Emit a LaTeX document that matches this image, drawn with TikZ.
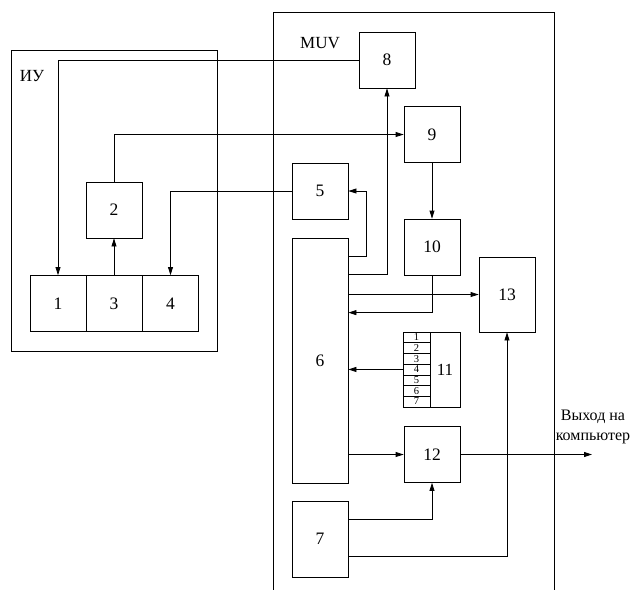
\documentclass[tikz,border=0pt]{standalone}
\usepackage{fontspec}
\setmainfont{Liberation Serif}
\usetikzlibrary{arrows.meta}
\tikzset{
  blk/.style={draw, line width=0.8pt, minimum width=56pt, minimum height=56pt,
              inner sep=0pt, font=\fontsize{17.5}{19}\selectfont},
  slot/.style={draw, line width=0.6pt, minimum width=27pt, minimum height=10.7pt,
               inner sep=0pt, font=\fontsize{10.5}{9}\selectfont},
  txt/.style={inner sep=0pt, font=\fontsize{17}{20}\selectfont},
  frame/.style={draw, line width=0.8pt},
  arr/.style={-{Triangle[length=8pt,width=5pt]}, line width=0.8pt},
}
\begin{document}
\begin{tikzpicture}[x=1pt, y=-1pt]
  \useasboundingbox (0,0) rectangle (633,590);
  % frames
  \draw[frame] (11,50) rectangle (217,351);
  \draw[frame] (273,590) -- (273,12) -- (554,12) -- (554,590);
  \node[txt] (iu) at (32,76) {ИУ};
  \node[txt] (muv) at (320,43) {MUV};
  % IU blocks
  \node[blk] (b1) at (58,303.5) {1};
  \node[blk] (b3) at (114,303.5) {3};
  \node[blk] (b4) at (170.5,303.5) {4};
  \node[blk] (b2) at (114,210) {2};
  % MUV blocks
  \node[blk] (b8) at (387,60) {8};
  \node[blk] (b9) at (432,134.5) {9};
  \node[blk] (b5) at (320,191) {5};
  \node[blk] (b10) at (432,247) {10};
  \node[blk, minimum height=245pt] (b6) at (320,360.5) {6};
  \node[blk, minimum height=75pt] (b13) at (507,294.5) {13};
  \node[blk, minimum width=57pt, minimum height=75pt] (b11) at (431.5,369.5) {};
  \node[txt] (n11) at (445,369.5) {11};
  \foreach \i in {1,...,7}
    \node[slot] (s\i) at (416.5,{332+10.7*(\i-0.5)}) {\i};
  \node[blk] (b12) at (432,454.5) {12};
  \node[blk, minimum height=76pt] (b7) at (320,539) {7};
  \coordinate (out) at (592,454.5);
  \node[txt, align=center, font=\fontsize{16}{20}\selectfont] (outlbl) at (593,427) {Выход на\\компьютер};
  % connectors
  \draw[arr] (b8.west) -| (b1.north);
  \draw[arr] (b3.north) -- (b2.south);
  \draw[arr] (b2.north) |- (b9.west);
  \draw[arr] (b5.west) -| (b4.north);
  \draw[arr] ([yshift=-19pt]b6.north east) -| ([xshift=18pt]b5.east) -- (b5.east);
  \draw[arr] ([yshift=-37pt]b6.north east) -| (b8.south);
  \draw[arr] (b9.south) -- (b10.north);
  \draw[arr] (b6.east |- b13.west) -- (b13.west);
  \draw[arr] (b10.south) |- ([yshift=-75pt]b6.north east);
  \draw[arr] (s4.west) -- (b6.east |- s4.west);
  \draw[arr] (b6.east |- b12.west) -- (b12.west);
  \draw[arr] (b12.east) -- (out);
  \draw[arr] ([yshift=-19pt]b7.north east) -| (b12.south);
  \draw[arr] ([yshift=-56pt]b7.north east) -| (b13.south);
\end{tikzpicture}
\end{document}
